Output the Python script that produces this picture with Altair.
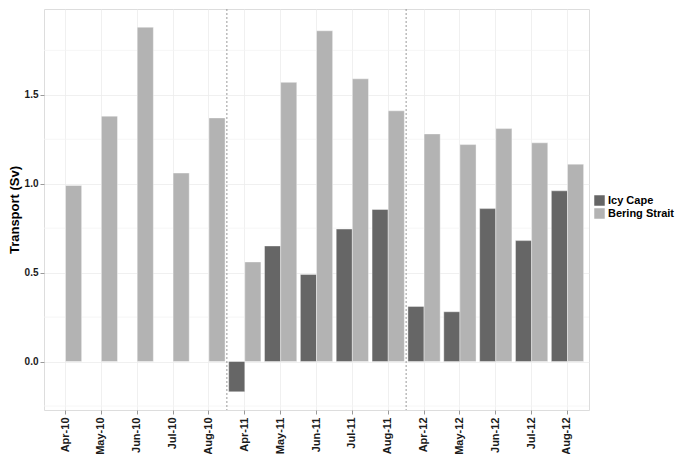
import altair as alt
import pandas as pd

months = ["Apr-10", "May-10", "Jun-10", "Jul-10", "Aug-10",
          "Apr-11", "May-11", "Jun-11", "Jul-11", "Aug-11",
          "Apr-12", "May-12", "Jun-12", "Jul-12", "Aug-12"]
icy_cape = [None, None, None, None, None,
            -0.17, 0.65, 0.49, 0.745, 0.855,
            0.31, 0.28, 0.86, 0.68, 0.96]
bering_strait = [0.99, 1.38, 1.88, 1.06, 1.37,
                 0.56, 1.57, 1.86, 1.59, 1.41,
                 1.28, 1.22, 1.31, 1.23, 1.11]
series = ["Icy Cape", "Bering Strait"]
year_starts = ["Apr-11", "Apr-12"]
minor_grid = [-0.25, 0.25, 0.75, 1.25, 1.75]

rows = []
for m, a, b in zip(months, icy_cape, bering_strait):
    rows.append({"month": m, "series": "Icy Cape", "value": a})
    rows.append({"month": m, "series": "Bering Strait", "value": b})
df = pd.DataFrame(rows)
df_bars = df.dropna()

W, H = 545, 401
step = W / (len(months) - 0.1 + 0.3)

xscale = alt.Scale(domain=months, paddingInner=0.1, paddingOuter=0.15)
yscale = alt.Scale(domain=[-0.2725, 1.9825], nice=False, zero=False)

x_enc = alt.X("month:N", scale=xscale, sort=months, title=None,
              axis=alt.Axis(labelAngle=-90, labelFontWeight="bold", labelFontSize=11,
                            labelColor="#1a1a1a", tickColor="#9a9a9a", tickSize=4,
                            grid=True, gridColor="#ececec", gridWidth=0.8, domain=False,
                            labelPadding=3))

minor = alt.Chart(pd.DataFrame({"v": minor_grid})).mark_rule(
    color="#f4f4f4", strokeWidth=0.8
).encode(y=alt.Y("v:Q", scale=yscale))

bars = alt.Chart(df_bars).mark_bar(stroke="white", strokeWidth=0.4).encode(
    x=x_enc,
    xOffset=alt.XOffset("series:N", scale=alt.Scale(domain=series, paddingInner=0, paddingOuter=0)),
    y=alt.Y("value:Q", scale=yscale, title="Transport (Sv)",
            axis=alt.Axis(values=[0, 0.5, 1.0, 1.5], format=".1f", labelFontWeight="bold",
                          labelFontSize=10, labelColor="#1a1a1a", tickColor="#9a9a9a",
                          tickSize=4, grid=True, gridColor="#ececec", gridWidth=0.8,
                          domain=False, titleFontSize=13, titleFontWeight="bold",
                          titleColor="#000000", titlePadding=3, labelPadding=2)),
    color=alt.Color("series:N",
                    scale=alt.Scale(domain=series, range=["#666666", "#b3b3b3"]),
                    legend=alt.Legend(title=None, orient="none", legendX=W + 5, legendY=186,
                                      symbolType="square", symbolSize=110,
                                      symbolStrokeWidth=0, labelFontSize=11,
                                      labelFontWeight="bold", labelColor="#000000",
                                      rowPadding=1, labelOffset=3)),
)

seps = alt.Chart(pd.DataFrame({"month": year_starts})).mark_rule(
    color="#9a9a9a", strokeDash=[2, 2], strokeWidth=1, xOffset=-step * 0.05
).encode(x=alt.X("month:N", scale=xscale, sort=months, bandPosition=0))

chart = alt.layer(minor, bars, seps).properties(
    width=W, height=H, padding=0
).configure_view(stroke="#8c8c8c", strokeWidth=1).configure(
    font="Liberation Sans"
)

chart.save("out.html", embed_options={"renderer": "svg", "actions": False})
